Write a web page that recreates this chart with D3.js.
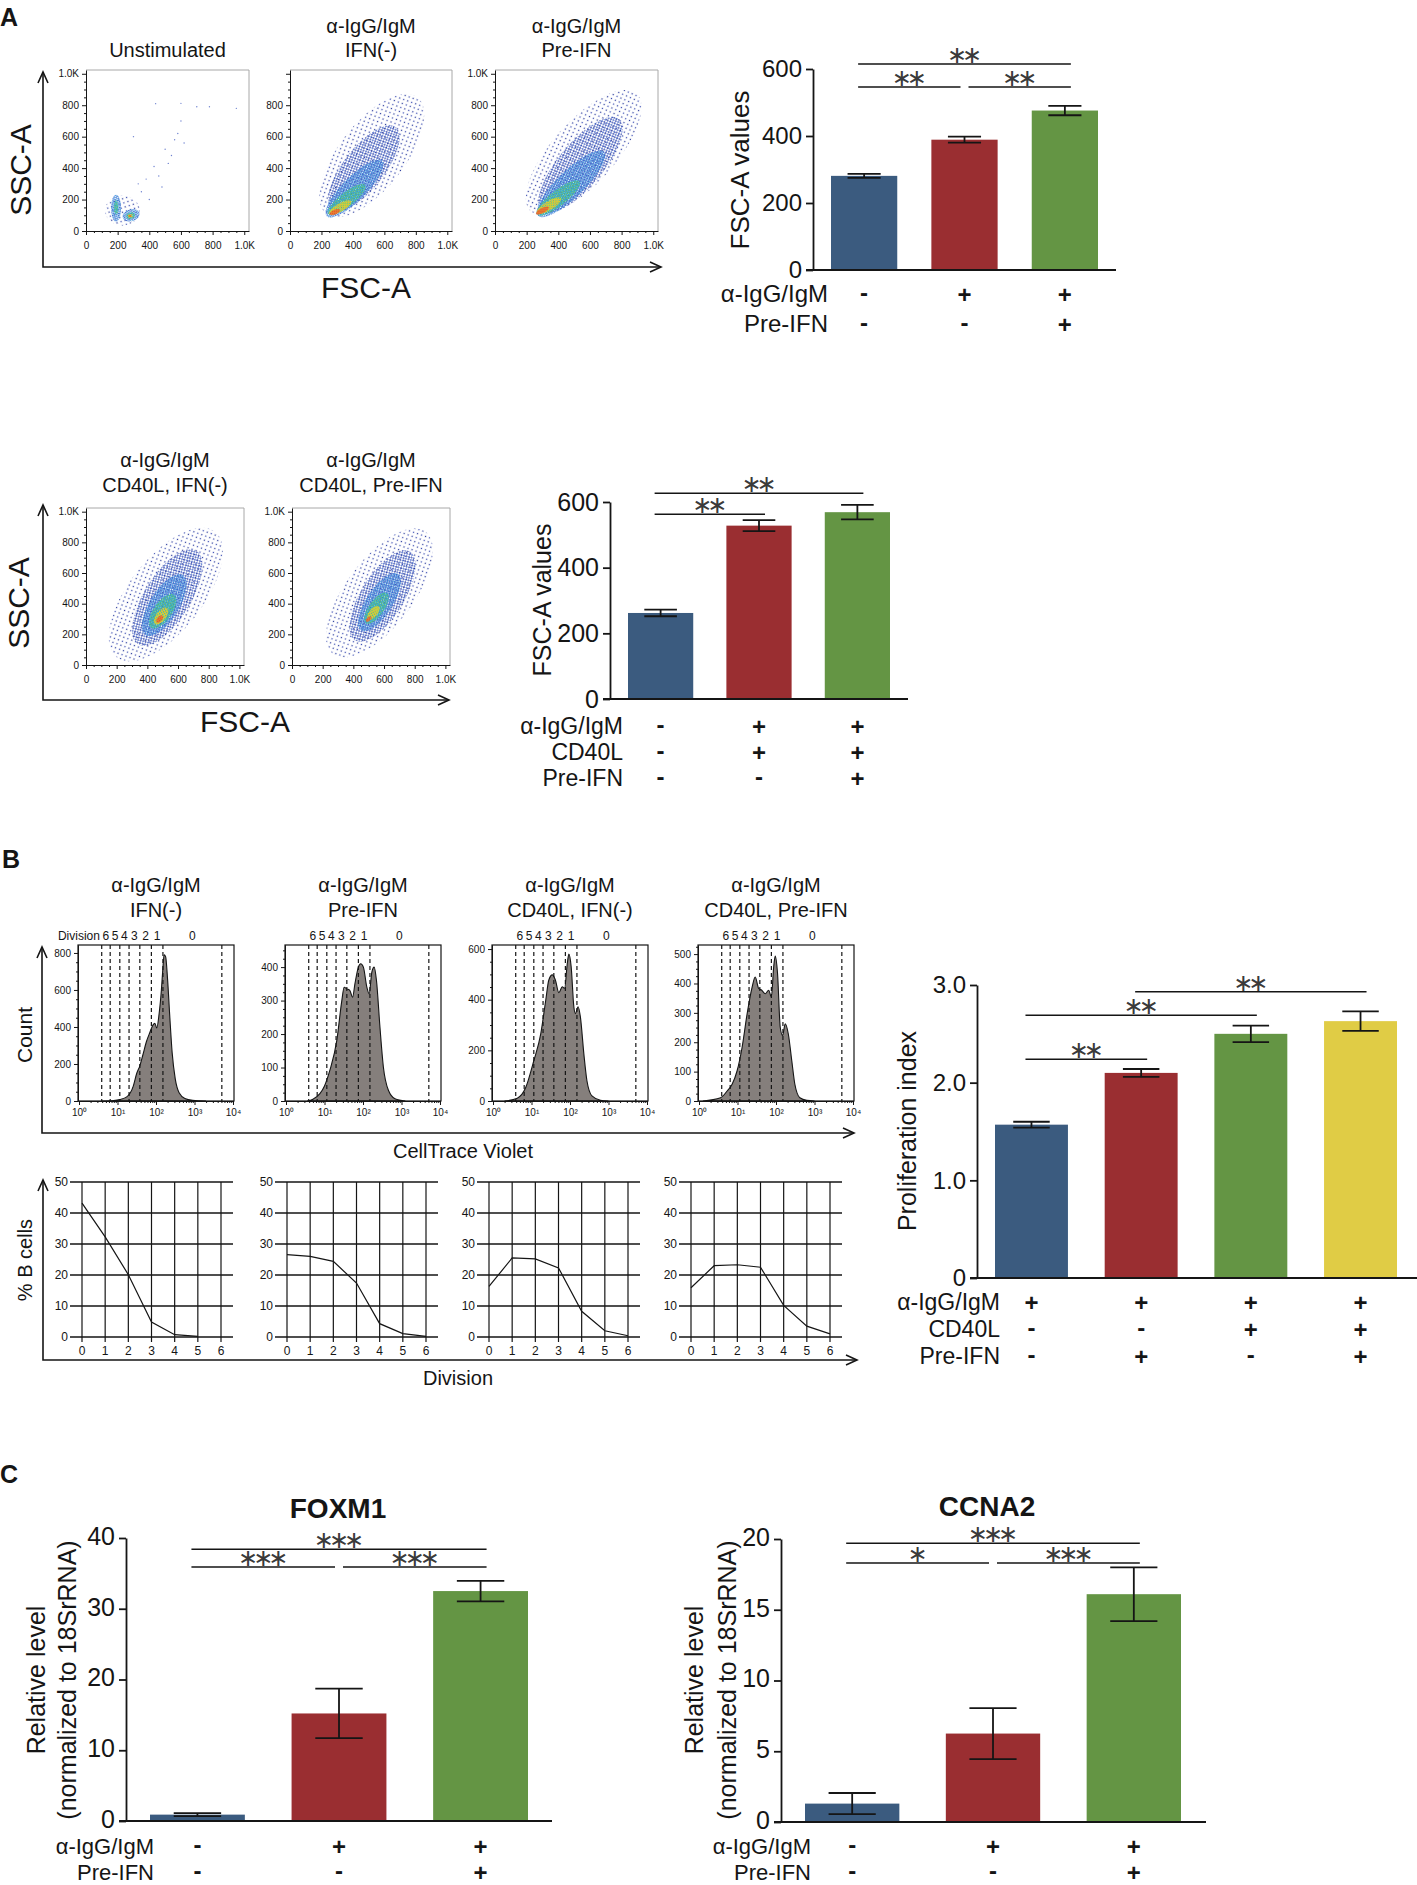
<!DOCTYPE html>
<html>
<head>
<meta charset="utf-8">
<title>B cell activation panels</title>
<script src="https://cdn.jsdelivr.net/npm/d3@7"></script>
<style>
  body { margin: 0; background: #fff; }
  svg { display: block; }
</style>
</head>
<body>
<svg id="fig" width="1417" height="1885"></svg>
<script>
// ---------- Panel A: FSC/SSC density plots ----------
// density blobs:
// [FSC centre, SSC centre, FSC radius, SSC radius, tilt (deg), density level 0-5]
const flowUnstim = [
  [230, 130, 110, 95, 0, 0], [190, 145, 32, 85, 0, 2], [285, 100, 55, 38, -15, 2],
  [190, 150, 14, 45, 0, 3], [282, 98, 28, 20, -15, 3], [280, 96, 16, 12, 0, 4], [278, 95, 9, 7, 0, 5]
];
const unstimSparse = [
  [440, 810], [600, 812], [700, 790], [780, 790], [950, 780], [600, 700], [560, 580], [500, 520],
  [430, 410], [380, 330], [330, 300], [580, 620], [520, 430], [460, 350], [350, 250], [300, 600],
  [400, 200], [480, 280], [620, 560], [540, 480]
];
const flowIfnNeg = [
  [520, 480, 470, 210, -52, 0], [470, 400, 330, 130, -52, 1], [410, 270, 250, 75, -45, 2],
  [360, 200, 150, 45, -38, 3], [320, 150, 80, 26, -30, 4], [285, 120, 36, 15, -25, 5]
];
const flowPreIfn = [
  [560, 500, 500, 200, -48, 0], [540, 420, 380, 140, -50, 1], [480, 300, 290, 85, -44, 2],
  [400, 210, 170, 50, -38, 3], [340, 160, 90, 28, -32, 4], [300, 130, 45, 16, -28, 5]
];
const flowCd40IfnNeg = [
  [520, 460, 520, 240, -52, 0], [530, 440, 360, 150, -58, 1], [510, 390, 230, 95, -58, 2],
  [500, 350, 130, 60, -55, 3], [490, 320, 65, 32, -52, 4], [480, 300, 28, 16, -50, 5]
];
const flowCd40PreIfn = [
  [570, 470, 500, 220, -53, 0], [590, 450, 340, 140, -58, 1], [570, 410, 220, 85, -57, 2],
  [550, 370, 120, 50, -55, 3], [530, 340, 55, 26, -50, 4], [500, 300, 22, 12, -45, 5]
];
const flowTicks = [0, 200, 400, 600, 800, 1000];

// ---------- Panel A: FSC-A bar charts ----------
const fscTopMeans = [281, 389, 476];
const fscTopErrs = [6, 9, 14];
const fscTopRows = ['α-IgG/IgM', 'Pre-IFN'];
const fscTopSigns = [['-', '+', '+'], ['-', '-', '+']];
const fscTopSig = [[0, 2, '**', 615], [0, 1, '**', 546], [1, 2, '**', 546]];

const fscCd40Means = [262, 528, 569];
const fscCd40Errs = [10, 17, 22];
const fscCd40Rows = ['α-IgG/IgM', 'CD40L', 'Pre-IFN'];
const fscCd40Signs = [['-', '+', '+'], ['-', '+', '+'], ['-', '-', '+']];
const fscCd40Sig = [[0, 2, '**', 627], [0, 1, '**', 563]];
const fscTicks = [0, 200, 400, 600];

// ---------- Panel B: CellTrace Violet histograms ([log10 intensity, count]) ----------
const histIfnNeg = [[0.6,0],[0.9,3],[1.06,8],[1.24,22],[1.41,80],[1.5,150],[1.58,190],[1.66,250],[1.75,320],[1.84,370],[1.92,410],[1.97,420],[2.02,395],[2.08,470],[2.14,600],[2.18,720],[2.21,790],[2.25,780],[2.3,660],[2.36,450],[2.42,260],[2.5,120],[2.6,45],[2.75,14],[2.95,4],[3.3,0]];
const histPreIfn = [[0.55,0],[0.7,5],[0.88,22],[1.0,45],[1.14,92],[1.32,181],[1.45,300],[1.51,340],[1.58,335],[1.66,330],[1.73,310],[1.79,350],[1.88,400],[1.94,410],[2.01,400],[2.1,340],[2.16,320],[2.23,385],[2.29,400],[2.35,360],[2.44,221],[2.53,101],[2.66,32],[2.83,7],[3.1,0]];
const histCd40IfnNeg = [[0.3,0],[0.63,11],[0.85,53],[1.06,159],[1.24,265],[1.37,398],[1.45,478],[1.54,498],[1.62,478],[1.71,428],[1.8,451],[1.86,445],[1.93,544],[1.97,580],[2.03,531],[2.1,372],[2.14,345],[2.21,372],[2.27,332],[2.36,186],[2.44,80],[2.57,20],[2.79,3],[3.0,0]];
const histCd40PreIfn = [[0.1,0],[0.56,11],[0.73,34],[0.86,57],[0.99,103],[1.12,183],[1.25,297],[1.38,388],[1.46,422],[1.55,383],[1.63,377],[1.72,365],[1.81,377],[1.88,354],[1.94,457],[1.98,493],[2.04,434],[2.11,251],[2.17,223],[2.24,263],[2.32,228],[2.41,137],[2.49,57],[2.62,11],[2.8,2],[3.0,0]];
const histMax = [843, 466, 616, 531];
const histStep = [200, 100, 200, 100];
const divisionGates = [0.59, 0.81, 1.06, 1.3, 1.58, 1.88, 2.18, 3.71]; // log10
const divisionLabels = ['6', '5', '4', '3', '2', '1', '0'];
const decadeLabels = ['10⁰', '10¹', '10²', '10³', '10⁴'];

// ---------- Panel B: % B cells per division ----------
const divisions = [0, 1, 2, 3, 4, 5, 6];
const pctIfnNeg = [43.2, 32.3, 20.1, 4.8, 0.75, 0.2];
const pctPreIfn = [26.6, 26.0, 24.4, 17.4, 4.3, 1.1, 0.2];
const pctCd40IfnNeg = [16.3, 25.5, 25.2, 22.3, 8.3, 2.0, 0.4];
const pctCd40PreIfn = [15.9, 23.0, 23.3, 22.5, 10.2, 3.5, 1.0];
const pctTicks = [0, 10, 20, 30, 40, 50];

// ---------- Panel B: proliferation index ----------
const prolifMeans = [1.57, 2.10, 2.50, 2.63];
const prolifErrs = [0.03, 0.04, 0.085, 0.1];
const prolifRows = ['α-IgG/IgM', 'CD40L', 'Pre-IFN'];
const prolifSigns = [['+', '+', '+', '+'], ['-', '-', '+', '+'], ['-', '+', '-', '+']];
const prolifSig = [[0, 1, '**', 2.24], [0, 2, '**', 2.69], [1, 3, '**', 2.93]];
const prolifTicks = [0, 1, 2, 3];

// ---------- Panel C: qPCR ----------
const qpcrRows = ['α-IgG/IgM', 'Pre-IFN'];
const qpcrSigns = [['-', '+', '+'], ['-', '-', '+']];
const foxm1Means = [0.9, 15.2, 32.5];
const foxm1Errs = [0.2, 3.5, 1.45];
const foxm1Sig = [[0, 2, '***', 38.4], [0, 1, '***', 35.9], [1, 2, '***', 35.9]];
const foxm1Ticks = [0, 10, 20, 30, 40];
const ccna2Means = [1.3, 6.25, 16.1];
const ccna2Errs = [0.75, 1.8, 1.9];
const ccna2Sig = [[0, 2, '***', 19.7], [0, 1, '*', 18.3], [1, 2, '***', 18.3]];
const ccna2Ticks = [0, 5, 10, 15, 20];

const barColors = ['#3b5b7f', '#9a2e31', '#649544', '#e0cc45'];
// dot colours per density level (sparse navy -> red core, jet-like)
const densityColors = [
  ['#25369a', '#3346b0'], ['#2338a6', '#3157c2'], ['#3a6ad4', '#44a0e0'],
  ['#2fb8c4', '#58c26c'], ['#bcdc38', '#f0c22a'], ['#e8422a', '#f07a2c']
];

// ================= drawing =================
const SANS = '"Liberation Sans", Arial, Helvetica, sans-serif';
const INK = '#151515';
const svg = d3.select('#fig');
const defs = svg.append('defs');
let clipCount = 0;

// halftone dot patterns for the density levels: [cell size, dot radius]
[[6, 0.75], [3.6, 0.8], [2.6, 0.85], [2.4, 0.9], [2.2, 0.95], [2.0, 1.0]].forEach(([s, r], i) => {
  const p = defs.append('pattern').attr('id', 'lv' + i)
    .attr('patternUnits', 'userSpaceOnUse').attr('width', s).attr('height', s)
    .attr('patternTransform', 'rotate(27)');
  p.append('circle').attr('cx', s * 0.25).attr('cy', s * 0.25).attr('r', r).attr('fill', densityColors[i][0]);
  p.append('circle').attr('cx', s * 0.75).attr('cy', s * 0.75).attr('r', r).attr('fill', densityColors[i][1]);
});

function text(g, x, y, s, size, opt = {}) {
  const t = g.append('text')
    .attr('x', x).attr('y', y)
    .attr('font-family', opt.family || SANS).attr('font-size', size)
    .attr('text-anchor', opt.anchor || 'middle')
    .attr('fill', opt.fill || INK)
    .text(s);
  if (opt.weight) t.attr('font-weight', opt.weight);
  if (opt.rotate) t.attr('dy', '0.35em').attr('transform', `rotate(-90,${x},${y})`);
  return t;
}

function clipRect(fr) {
  const id = 'clip' + (clipCount++);
  defs.append('clipPath').attr('id', id).append('rect')
    .attr('x', fr.x).attr('y', fr.y).attr('width', fr.w).attr('height', fr.h);
  return `url(#${id})`;
}

function arrowAxes(x0, yTop, yBottom, xRight) {
  const g = svg.append('g').attr('fill', 'none').attr('stroke', INK).attr('stroke-width', 1.6);
  g.append('path').attr('d', `M${x0},${yTop} L${x0},${yBottom} L${xRight},${yBottom}`);
  g.append('path').attr('d', `M${x0 - 5},${yTop + 11} L${x0},${yTop} L${x0 + 5},${yTop + 11}`);
  g.append('path').attr('d', `M${xRight - 11},${yBottom - 5} L${xRight},${yBottom} L${xRight - 11},${yBottom + 5}`);
}

function styleAxis(ga, size) {
  ga.selectAll('path,line').attr('stroke', INK);
  ga.selectAll('text').attr('font-family', SANS).attr('font-size', size).attr('fill', INK);
}

// ---------- flow density plot ----------
function flowPlot(fr, levels, titleLines, titleY, showTop, sparse) {
  const g = svg.append('g');
  const x = d3.scaleLinear().domain([0, 1030]).range([fr.x, fr.x + fr.w]);
  const y = d3.scaleLinear().domain([0, 1024]).range([fr.y + fr.h, fr.y]);
  const pg = g.append('g').attr('clip-path', clipRect(fr));
  pg.selectAll('ellipse').data(levels).join('ellipse')
    .attr('cx', d => x(d[0])).attr('cy', d => y(d[1]))
    .attr('rx', d => x(d[2]) - x(0)).attr('ry', d => y(0) - y(d[3]))
    .attr('transform', d => `rotate(${d[4]},${x(d[0])},${y(d[1])})`)
    .attr('fill', d => `url(#lv${d[5]})`);
  if (sparse) {
    pg.selectAll('circle.sp').data(sparse).join('circle').attr('class', 'sp')
      .attr('cx', d => x(d[0])).attr('cy', d => y(d[1])).attr('r', 0.7).attr('fill', '#6f83d0');
  }
  // light frame top/right
  g.append('path').attr('d', `M${fr.x},${fr.y} H${fr.x + fr.w} V${fr.y + fr.h}`)
    .attr('fill', 'none').attr('stroke', '#a8a8a8').attr('stroke-width', 1);
  const fmt = d => d === 1000 ? '1.0K' : d;
  const yFmt = d => (d === 1000 && !showTop) ? '' : fmt(d);
  const minor = d3.range(0, 1025, 50).filter(v => v % 200 !== 0);
  const gy = g.append('g').attr('transform', `translate(${fr.x},0)`)
    .call(d3.axisLeft(y).tickValues(flowTicks).tickFormat(yFmt).tickSize(4).tickPadding(3).tickSizeOuter(0));
  g.append('g').attr('transform', `translate(${fr.x},0)`)
    .call(d3.axisLeft(y).tickValues(minor).tickFormat('').tickSize(2).tickSizeOuter(0))
    .select('.domain').remove();
  const gx = g.append('g').attr('transform', `translate(0,${fr.y + fr.h})`)
    .call(d3.axisBottom(x).tickValues(flowTicks).tickFormat(fmt).tickSize(4).tickPadding(7).tickSizeOuter(0));
  g.append('g').attr('transform', `translate(0,${fr.y + fr.h})`)
    .call(d3.axisBottom(x).tickValues(minor).tickFormat('').tickSize(2).tickSizeOuter(0))
    .select('.domain').remove();
  [gy, gx].forEach(a => styleAxis(a, 10));
  g.selectAll('.tick line, .domain').attr('stroke', INK);
  titleLines.forEach((t, i) => text(g, fr.x + fr.w / 2, titleY[i], t, 20));
}

// ---------- CellTrace histogram ----------
function histPlot(fr, pts, yMax, yStep, titleLines, withWord) {
  const g = svg.append('g');
  const x = d3.scaleLinear().domain([0, 4]).range([fr.x + 1, fr.x + fr.w - 1]);
  const y = d3.scaleLinear().domain([0, yMax]).range([fr.y + fr.h, fr.y]);
  const area = d3.area().x(d => x(d[0])).y0(y(0)).y1(d => y(d[1])).curve(d3.curveMonotoneX);
  g.append('g').attr('clip-path', clipRect(fr)).append('path').datum(pts)
    .attr('d', area).attr('fill', '#857f7c').attr('stroke', INK).attr('stroke-width', 1.1);
  g.selectAll('line.gate').data(divisionGates).join('line').attr('class', 'gate')
    .attr('x1', d => x(d)).attr('x2', d => x(d)).attr('y1', fr.y).attr('y2', fr.y + fr.h)
    .attr('stroke', INK).attr('stroke-width', 1.2).attr('stroke-dasharray', '4,3');
  g.append('rect').attr('x', fr.x).attr('y', fr.y).attr('width', fr.w).attr('height', fr.h)
    .attr('fill', 'none').attr('stroke', INK).attr('stroke-width', 1.2);
  const majors = d3.range(0, yMax + 1, yStep);
  const minors = d3.range(0, yMax + 1, yStep / 4).filter(v => v % yStep !== 0);
  const gy = g.append('g').attr('transform', `translate(${fr.x},0)`)
    .call(d3.axisLeft(y).tickValues(majors).tickSize(4).tickPadding(3).tickSizeOuter(0));
  g.append('g').attr('transform', `translate(${fr.x},0)`)
    .call(d3.axisLeft(y).tickValues(minors).tickFormat('').tickSize(2).tickSizeOuter(0));
  const logMinor = [];
  d3.range(0, 4).forEach(k => d3.range(2, 10).forEach(m => logMinor.push(k + Math.log10(m))));
  const gx = g.append('g').attr('transform', `translate(0,${fr.y + fr.h})`)
    .call(d3.axisBottom(x).tickValues([0, 1, 2, 3, 4]).tickFormat(d => decadeLabels[d]).tickSize(4).tickPadding(4).tickSizeOuter(0));
  g.append('g').attr('transform', `translate(0,${fr.y + fr.h})`)
    .call(d3.axisBottom(x).tickValues(logMinor).tickFormat('').tickSize(2).tickSizeOuter(0));
  [gy, gx].forEach(a => styleAxis(a, 10));
  g.selectAll('.tick line, .domain').attr('stroke', INK);
  // division labels between gates
  divisionLabels.forEach((lab, i) => {
    const cx = (x(divisionGates[i]) + x(divisionGates[i + 1])) / 2;
    text(g, cx, fr.y - 5, lab, 12);
  });
  if (withWord) {
    text(g, (x(divisionGates[0]) + x(divisionGates[1])) / 2 - 6, fr.y - 5, 'Division', 12, { anchor: 'end' });
  }
  titleLines.forEach((t, i) => text(g, fr.x + fr.w / 2, [892, 917][i], t, 20));
}

// ---------- % B cells line chart ----------
function divisionPlot(x0, vals) {
  const g = svg.append('g');
  const x = d3.scaleLinear().domain([0, 6]).range([x0, x0 + 139]);
  const y = d3.scaleLinear().domain([0, 50]).range([1337, 1182]);
  g.selectAll('line.h').data(pctTicks).join('line').attr('class', 'h')
    .attr('x1', x(0) - 12).attr('x2', x(6) + 12).attr('y1', d => y(d)).attr('y2', d => y(d))
    .attr('stroke', INK).attr('stroke-width', 1.6);
  g.selectAll('line.v').data(divisions).join('line').attr('class', 'v')
    .attr('x1', d => x(d)).attr('x2', d => x(d)).attr('y1', y(0) + 5).attr('y2', y(50))
    .attr('stroke', INK).attr('stroke-width', 1.2);
  pctTicks.forEach(v => text(g, x(0) - 14, y(v) + 4, v, 12, { anchor: 'end' }));
  divisions.forEach(v => text(g, x(v), y(0) + 18, v, 12));
  g.append('path').datum(vals)
    .attr('d', d3.line().x((d, i) => x(i)).y(d => y(d)))
    .attr('fill', 'none').attr('stroke', INK).attr('stroke-width', 1.2);
}

// ---------- bar chart with error bars, significance and sign table ----------
function barChart(c) {
  const g = svg.append('g');
  const n = c.means.length;
  const x = d3.scaleBand().domain(d3.range(n)).range(c.band).paddingInner(c.pad);
  const y = d3.scaleLinear().domain([0, c.ticks[c.ticks.length - 1]]).range([c.yZero, c.yTop]);
  const cx = i => x(i) + x.bandwidth() / 2;
  const cap = x.bandwidth() * 0.25;

  g.selectAll('rect.bar').data(c.means).join('rect').attr('class', 'bar')
    .attr('x', (d, i) => x(i)).attr('width', x.bandwidth())
    .attr('y', d => y(d)).attr('height', d => y(0) - y(d))
    .attr('fill', (d, i) => barColors[i]);

  const eb = g.append('g').attr('stroke', INK).attr('stroke-width', 1.8).attr('fill', 'none');
  c.means.forEach((m, i) => {
    const e = c.errs[i];
    eb.append('path').attr('d',
      `M${cx(i)},${y(m - e)} V${y(m + e)} M${cx(i) - cap},${y(m + e)} H${cx(i) + cap} M${cx(i) - cap},${y(m - e)} H${cx(i) + cap}`);
  });

  const ga = g.append('g').attr('transform', `translate(${c.axisX},0)`)
    .call(d3.axisLeft(y).tickValues(c.ticks).tickFormat(c.fmt || (d => d)).tickSize(7).tickPadding(4).tickSizeOuter(0));
  styleAxis(ga, c.tickSize);
  if (c.tickDy) ga.selectAll('text').attr('dy', c.tickDy);
  ga.selectAll('path,line').attr('stroke-width', 1.8);
  g.append('line').attr('x1', c.axisX - 7).attr('x2', c.xEnd).attr('y1', c.yZero).attr('y2', c.yZero)
    .attr('stroke', INK).attr('stroke-width', 1.8);

  // y title (one or two lines)
  c.yTitle.forEach((t, i) => text(g, c.yTitleX[i], c.yTitleY, t, c.titleSize, { rotate: true }));

  // significance brackets, stars as math asterisks
  c.sig.forEach(([a, b, mark, level]) => {
    const shareLeft = c.sig.some(s => s[3] === level && s[1] === a);
    const shareRight = c.sig.some(s => s[3] === level && s[0] === b);
    const x1 = shareLeft ? cx(a) + 4 : cx(a) - 6;
    const x2 = shareRight ? cx(b) - 4 : cx(b) + 6;
    const ly = y(level);
    g.append('line').attr('x1', x1).attr('x2', x2).attr('y1', ly).attr('y2', ly)
      .attr('stroke', INK).attr('stroke-width', 1.5);
    text(g, (x1 + x2) / 2 - 2.5, ly - 1, mark.replace(/\*/g, '\u2217'), 24,
      { fill: '#3a3a3a', family: '"DejaVu Sans", sans-serif' }).attr('letter-spacing', -5);
  });

  // treatment table
  c.rows.forEach((r, j) => {
    text(g, c.rowRight, c.rowY[j], r, c.rowSize, { anchor: 'end' });
    c.signs[j].forEach((s, i) => text(g, cx(i), c.rowY[j] + (s === '-' ? -1 : 1), s, 24, { weight: 'bold' }));
  });

  if (c.title) text(g, c.title[1], c.title[2], c.title[0], 28, { weight: 'bold' });
}

// ================= panel A =================
text(svg, 0, 26, 'A', 25, { anchor: 'start', weight: 'bold' });
flowPlot({ x: 86, y: 70, w: 163, h: 161 }, flowUnstim, ['Unstimulated'], [57], true, unstimSparse);
flowPlot({ x: 290, y: 70, w: 162, h: 161 }, flowIfnNeg, ['α-IgG/IgM', 'IFN(-)'], [33, 57], false);
flowPlot({ x: 495, y: 70, w: 163, h: 161 }, flowPreIfn, ['α-IgG/IgM', 'Pre-IFN'], [33, 57], true);
arrowAxes(43, 72, 267, 661);
text(svg, 366, 298, 'FSC-A', 30);
text(svg, 20, 170, 'SSC-A', 30, { rotate: true });

barChart({
  means: fscTopMeans, errs: fscTopErrs, band: [831, 1098], pad: 0.34,
  yZero: 270, yTop: 69, ticks: fscTicks, tickSize: 24, axisX: 813, xEnd: 1116,
  yTitle: ['FSC-A values'], yTitleX: [740], yTitleY: 170, titleSize: 26,
  sig: fscTopSig, rows: fscTopRows, signs: fscTopSigns, rowRight: 828, rowY: [302, 332], rowSize: 24
});

flowPlot({ x: 86, y: 508, w: 158, h: 157 }, flowCd40IfnNeg, ['α-IgG/IgM', 'CD40L, IFN(-)'], [467, 492], true);
flowPlot({ x: 292, y: 508, w: 158, h: 157 }, flowCd40PreIfn, ['α-IgG/IgM', 'CD40L, Pre-IFN'], [467, 492], true);
arrowAxes(43, 505, 700, 449);
text(svg, 245, 732, 'FSC-A', 30);
text(svg, 18, 603, 'SSC-A', 30, { rotate: true });

barChart({
  means: fscCd40Means, errs: fscCd40Errs, band: [628, 890], pad: 0.337,
  yZero: 699, yTop: 502, ticks: fscTicks, tickSize: 25, axisX: 610, xEnd: 908,
  yTitle: ['FSC-A values'], yTitleX: [542], yTitleY: 600, titleSize: 25,
  sig: fscCd40Sig, rows: fscCd40Rows, signs: fscCd40Signs, rowRight: 623, rowY: [734, 760, 786], rowSize: 23
});

// ================= panel B =================
text(svg, 2, 868, 'B', 25, { anchor: 'start', weight: 'bold' });
const histFrames = [78, 285, 492, 698].map(x => ({ x: x, y: 945, w: 156, h: 156 }));
const histSets = [histIfnNeg, histPreIfn, histCd40IfnNeg, histCd40PreIfn];
const histTitles = [['α-IgG/IgM', 'IFN(-)'], ['α-IgG/IgM', 'Pre-IFN'], ['α-IgG/IgM', 'CD40L, IFN(-)'], ['α-IgG/IgM', 'CD40L, Pre-IFN']];
histSets.forEach((h, i) => histPlot(histFrames[i], h, histMax[i], histStep[i], histTitles[i], i === 0));
arrowAxes(42, 947, 1133, 854);
text(svg, 25, 1035, 'Count', 21, { rotate: true });
text(svg, 463, 1158, 'CellTrace Violet', 20);

[pctIfnNeg, pctPreIfn, pctCd40IfnNeg, pctCd40PreIfn].forEach((v, i) => divisionPlot([82, 287, 489, 691][i], v));
arrowAxes(43, 1180, 1360, 857);
text(svg, 25, 1260, '% B cells', 20, { rotate: true });
text(svg, 458, 1385, 'Division', 20);

barChart({
  means: prolifMeans, errs: prolifErrs, band: [995, 1397], pad: 0.335,
  yZero: 1278, yTop: 985, ticks: prolifTicks, fmt: d => d === 0 ? '0' : d.toFixed(1), tickSize: 24,
  axisX: 977, xEnd: 1417,
  yTitle: ['Proliferation index'], yTitleX: [907], yTitleY: 1131, titleSize: 25,
  sig: prolifSig, rows: prolifRows, signs: prolifSigns, rowRight: 1000, rowY: [1310, 1337, 1364], rowSize: 23
});

// ================= panel C =================
text(svg, 0, 1483, 'C', 25, { anchor: 'start', weight: 'bold' });
barChart({
  means: foxm1Means, errs: foxm1Errs, band: [150, 528], pad: 0.33,
  yZero: 1821, yTop: 1538, ticks: foxm1Ticks, tickSize: 25, tickDy: '0.25em', axisX: 126, xEnd: 552,
  yTitle: ['Relative level', '(normalized to 18SrRNA)'], yTitleX: [36, 67], yTitleY: 1680, titleSize: 25,
  sig: foxm1Sig, rows: qpcrRows, signs: qpcrSigns, rowRight: 154, rowY: [1854, 1880], rowSize: 22,
  title: ['FOXM1', 338, 1518]
});
barChart({
  means: ccna2Means, errs: ccna2Errs, band: [805, 1181], pad: 0.33,
  yZero: 1822, yTop: 1539, ticks: ccna2Ticks, tickSize: 25, tickDy: '0.25em', axisX: 781, xEnd: 1206,
  yTitle: ['Relative level', '(normalized to 18SrRNA)'], yTitleX: [694, 727], yTitleY: 1680, titleSize: 25,
  sig: ccna2Sig, rows: qpcrRows, signs: qpcrSigns, rowRight: 811, rowY: [1854, 1880], rowSize: 22,
  title: ['CCNA2', 987, 1516]
});
</script>
</body>
</html>
